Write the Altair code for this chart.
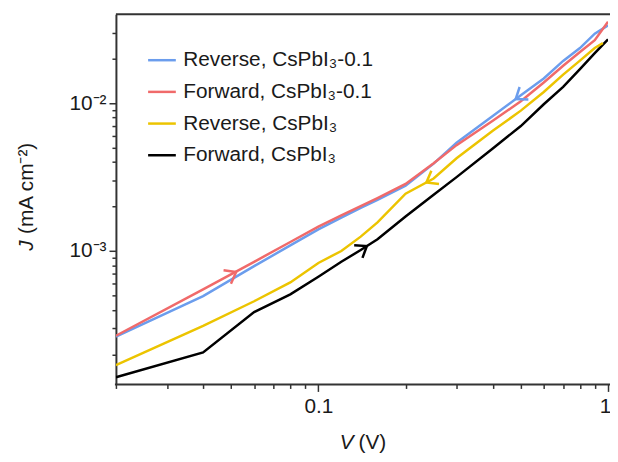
import altair as alt
import pandas as pd

# ---------------- data ----------------
series_names = ["Reverse, CsPbI\u2083-0.1", "Forward, CsPbI\u2083-0.1",
                "Reverse, CsPbI\u2083", "Forward, CsPbI\u2083"]
series_colors = ["#6b9ded", "#f06a6a", "#ecc400", "#000000"]

V_common = [0.02, 0.04, 0.06, 0.08, 0.1, 0.12, 0.14, 0.16, 0.2, 0.25,
            0.3, 0.4, 0.5, 0.6, 0.7, 0.8, 0.9, 1.0]
V_yellow = [0.02, 0.04, 0.06, 0.08, 0.1, 0.12, 0.14, 0.16, 0.2, 0.25,
            0.3, 0.4, 0.5, 0.6, 0.7, 0.8, 0.9, 0.96]

J_blue = [2.63e-4, 4.95e-4, 7.9e-4, 1.09e-3, 1.40e-3, 1.68e-3, 1.96e-3, 2.22e-3,
          2.76e-3, 3.9e-3, 5.4e-3, 8.2e-3, 1.13e-2, 1.47e-2, 1.93e-2, 2.36e-2,
          2.95e-2, 3.36e-2]
J_red = [2.67e-4, 5.5e-4, 8.45e-4, 1.15e-3, 1.46e-3, 1.74e-3, 2.01e-3, 2.28e-3,
         2.84e-3, 3.92e-3, 5.2e-3, 7.6e-3, 1.03e-2, 1.38e-2, 1.79e-2, 2.22e-2,
         2.67e-2, 3.55e-2]
J_yellow = [1.69e-4, 3.11e-4, 4.57e-4, 6.13e-4, 8.3e-4, 1.0e-3, 1.25e-3, 1.56e-3,
            2.44e-3, 3.09e-3, 4.24e-3, 6.5e-3, 8.9e-3, 1.19e-2, 1.56e-2, 1.94e-2,
            2.36e-2, 2.55e-2]
J_black = [1.40e-4, 2.06e-4, 3.86e-4, 5.09e-4, 6.7e-4, 8.45e-4, 1.015e-3, 1.2e-3,
           1.71e-3, 2.4e-3, 3.16e-3, 4.94e-3, 7.0e-3, 9.83e-3, 1.29e-2, 1.7e-2,
           2.18e-2, 2.7e-2]

# scan-direction arrows (one per curve)
arrow_series = [series_names[1], series_names[0], series_names[2], series_names[3]]
arrow_V = [0.052, 0.48, 0.236, 0.147]
arrow_J = [7.2e-4, 1.066e-2, 2.91e-3, 1.08e-3]

x_tick_values = [0.02, 0.03, 0.04, 0.05, 0.06, 0.07, 0.08, 0.09,
                 0.1, 0.2, 0.3, 0.4, 0.5, 0.6, 0.7, 0.8, 0.9, 1]
y_tick_values = [2e-4, 3e-4, 4e-4, 5e-4, 6e-4, 7e-4, 8e-4, 9e-4,
                 1e-3, 2e-3, 3e-3, 4e-3, 5e-3, 6e-3, 7e-3, 8e-3, 9e-3,
                 1e-2, 2e-2, 3e-2]

# ---------------- styles ----------------
W, H = 497, 374
FONT = "Liberation Sans"
AXIS_COLOR = "#333333"
TEXT_COLOR = "#1a1a1a"
arrow_angles = [331, 145, 150, 327]
CHEVRON = "M -1 -0.75 L 0 0 L -1 0.75"

rows = []
for name, vs, js in [(series_names[3], V_common, J_black),
                     (series_names[2], V_yellow, J_yellow),
                     (series_names[0], V_common, J_blue),
                     (series_names[1], V_common, J_red)]:
    for v, j in zip(vs, js):
        rows.append({"series": name, "V": v, "J": j})
df = pd.DataFrame(rows)

x_scale = alt.Scale(type="log", domain=[0.02, 1.0], nice=False)
y_scale = alt.Scale(type="log", domain=[1.25e-4, 0.04], nice=False)
color_scale = alt.Scale(domain=series_names, range=series_colors)

x_axis = alt.Axis(
    values=x_tick_values,
    labelExpr="datum.value == 0.1 ? '0.1' : (datum.value == 1 ? '1' : '')",
    tickSize={"condition": {"test": "datum.value == 0.1 || datum.value == 1", "value": 7}, "value": 4},
    labelOffset={"condition": {"test": "datum.value == 1", "value": -3}, "value": 0},
    tickColor=AXIS_COLOR, tickWidth=1.5, domain=False,
    labelFont=FONT, labelFontSize=21, labelColor=TEXT_COLOR,
    labelPadding=4, labelFlush=False, labelOverlap=False, grid=False, title=None,
)
y_axis = alt.Axis(
    values=y_tick_values,
    labelExpr="datum.value == 0.001 ? '10\u207b\u00b3' : (datum.value == 0.01 ? '10\u207b\u00b2' : '')",
    tickSize={"condition": {"test": "datum.value == 0.001 || datum.value == 0.01", "value": 7}, "value": 4},
    tickColor=AXIS_COLOR, tickWidth=1.5, domainColor=AXIS_COLOR, domainWidth=2,
    labelFont=FONT, labelFontSize=21, labelColor=TEXT_COLOR,
    labelPadding=3, labelFlush=False, labelOverlap=False, grid=False, title=None,
)

lines = alt.Chart(df).mark_line(strokeWidth=2.5, clip=True).encode(
    x=alt.X("V:Q", scale=x_scale, axis=x_axis),
    y=alt.Y("J:Q", scale=y_scale, axis=y_axis),
    color=alt.Color("series:N", scale=color_scale, legend=alt.Legend(
        title=None, orient="none", legendX=31, legendY=31,
        symbolType="stroke", symbolSize=784, symbolStrokeWidth=2.5,
        labelFont=FONT, labelFontSize=21, labelColor=TEXT_COLOR, labelLimit=0,
        rowPadding=6, labelOffset=6, padding=0,
    )),
    detail="series:N",
)

layers = [lines]
for s, v, j, ang in zip(arrow_series, arrow_V, arrow_J, arrow_angles):
    col = series_colors[series_names.index(s)]
    arr = alt.Chart(pd.DataFrame({"V": [v], "J": [j]})).mark_point(
        shape=CHEVRON, filled=False, size=420, strokeWidth=2.5,
        angle=ang, color=col, opacity=1,
    ).encode(
        x=alt.X("V:Q", scale=x_scale),
        y=alt.Y("J:Q", scale=y_scale),
    )
    layers.append(arr)

one = pd.DataFrame({"a": [0]})
# frame lines (top border and bottom axis line, extending to the image edge)
top_rule = alt.Chart(one).mark_rule(color=AXIS_COLOR, strokeWidth=2).encode(
    x=alt.value(0), x2=alt.value(W + 8), y=alt.value(0))
bottom_rule = alt.Chart(one).mark_rule(color=AXIS_COLOR, strokeWidth=2).encode(
    x=alt.value(-1), x2=alt.value(W + 8), y=alt.value(H))

# axis titles with italic symbols
y_t1 = alt.Chart(one).mark_text(text="J", font=FONT, fontSize=21, fontStyle="italic",
                                color=TEXT_COLOR, angle=270, align="left", baseline="middle").encode(
    x=alt.value(-90), y=alt.value(239))
y_t2 = alt.Chart(one).mark_text(text="(mA cm\u207b\u00b2)", font=FONT, fontSize=21,
                                color=TEXT_COLOR, angle=270, align="left", baseline="middle").encode(
    x=alt.value(-90), y=alt.value(222))
x_t1 = alt.Chart(one).mark_text(text="V", font=FONT, fontSize=21, fontStyle="italic",
                                color=TEXT_COLOR, align="left", baseline="middle").encode(
    x=alt.value(226), y=alt.value(433))
x_t2 = alt.Chart(one).mark_text(text="(V)", font=FONT, fontSize=21,
                                color=TEXT_COLOR, align="left", baseline="middle").encode(
    x=alt.value(245), y=alt.value(433))

chart = alt.layer(*layers, top_rule, bottom_rule, y_t1, y_t2, x_t1, x_t2).properties(
    width=W, height=H,
    autosize=alt.AutoSizeParams(type="none"),
    padding={"left": 109, "top": 4, "right": 2, "bottom": 68},
    background="white",
).configure_view(stroke=None)

chart.save("out.html", embed_options={"renderer": "svg", "actions": False})
